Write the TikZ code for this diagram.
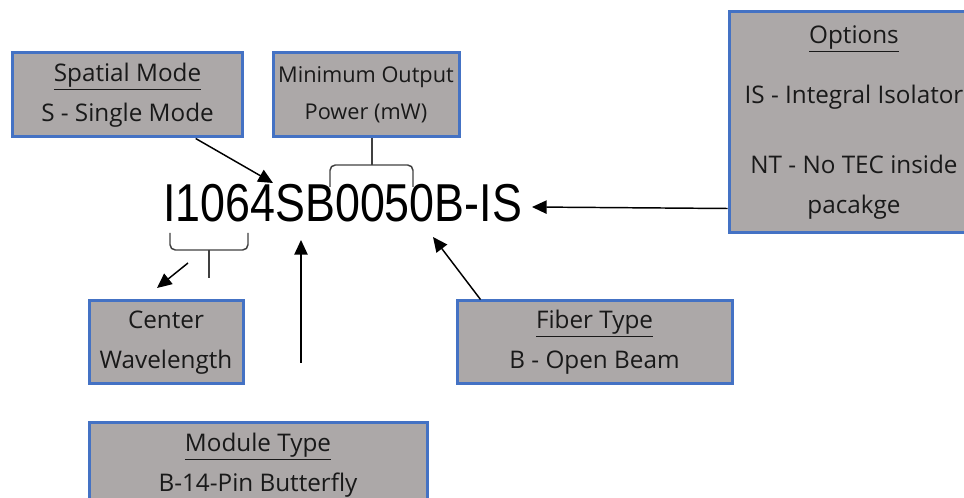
\documentclass[tikz,border=0pt]{standalone}
\usepackage{fontspec}
\setmainfont{Open Sans}
\newfontfamily\codefont[FakeStretch=0.84]{Liberation Sans}
\usetikzlibrary{shapes,arrows.meta,positioning,calc}
\definecolor{boxgray}{RGB}{172,168,168}
\definecolor{boxblue}{RGB}{68,114,196}

\begin{document}
\begin{tikzpicture}[x=0.75pt,y=-0.75pt,
  partbox/.style={draw=boxblue, line width=2.25pt, fill=boxgray, align=center,
    text=black!90, font=\fontsize{18.2}{30}\selectfont, inner sep=0pt},
  ptr/.style={line width=1.1pt, -{Triangle[length=11pt,width=10pt]}},
  brace/.style={line width=1.1pt, black!75, rounded corners=4pt}]
\useasboundingbox (0,0) rectangle (964,498);
\clip (0,0) rectangle (964,498);

% part number
\node[anchor=base west, inner sep=0pt, font=\codefont\fontsize{40}{40}\selectfont] (code) at (163,222) {I1064SB0050B-IS};

% boxes
\node[partbox, minimum width=173pt, minimum height=63pt] (spatial) at (127.5,95) {\underline{Spatial Mode}\\S - Single Mode};
\node[partbox, minimum width=139.5pt, minimum height=63pt, font=\fontsize{16.3}{28}\selectfont] (power) at (366,95) {Minimum Output\\Power (mW)};
\node[partbox, minimum width=187.5pt, minimum height=165.75pt] (options) at (854,122.5) {\underline{Options}\\[15pt]IS - Integral Isolator\\[22.5pt]NT - No TEC inside\\pacakge};
\node[partbox, minimum width=115.5pt, minimum height=62.25pt] (wave) at (166,342.5) {Center\\Wavelength};
\node[partbox, minimum width=206.25pt, minimum height=62.25pt] (fiber) at (594.5,342.5) {\underline{Fiber Type}\\B - Open Beam};
\node[partbox, minimum width=253.5pt, minimum height=63pt] (module) at (258,465) {\underline{Module Type}\\B-14-Pin Butterfly};

% arrow ends
\coordinate (sTip) at (273,183);
\coordinate (wTail) at (188,263);
\coordinate (wTip) at (157,288);
\coordinate (mTail) at (301,363);
\coordinate (mTip) at (301,240);
\coordinate (fTip) at (433,237);
\coordinate (oTip) at (532,207);

% braces
\draw[brace] (170,233) -- (170,250) -- (248,250) -- (248,233);
\draw[brace] (209,250) -- (209,278);
\draw[brace] (330,187) -- (330,165) -- (413,165) -- (413,187);
\draw[brace] ($(power.south)+(6,0)$) -- (372,165);

% arrows
\draw[ptr] ($(spatial.south west)+(185,0)$) -- (sTip);
\draw[ptr] (wTail) -- (wTip);
\draw[ptr] (mTail) -- (mTip);
\draw[ptr] ($(fiber.north west)+(25,0)$) -- (fTip);
\draw[ptr] ($(options.south west)+(0,-26)$) -- (oTip);
\end{tikzpicture}
\end{document}
